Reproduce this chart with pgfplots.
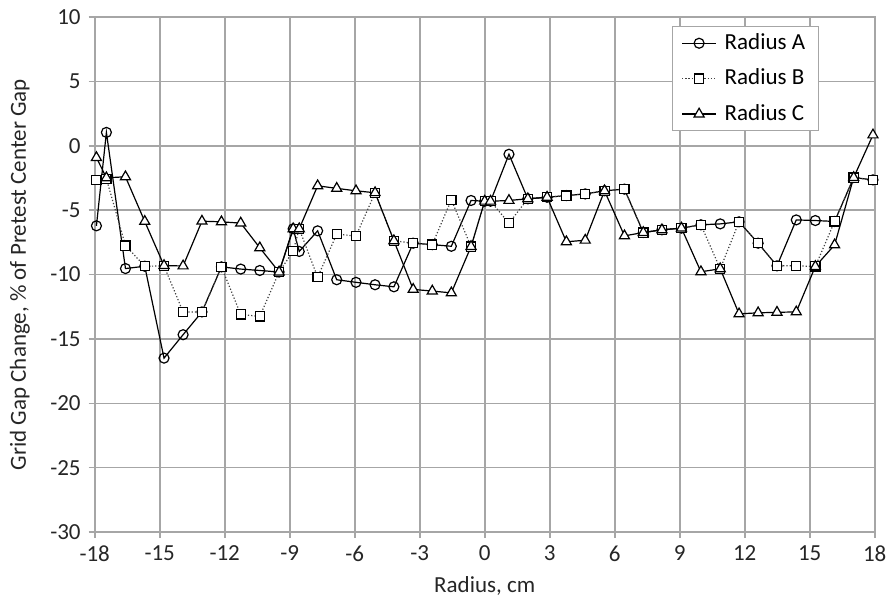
\documentclass[border=0pt]{standalone}
\usepackage{fontspec}
\setmainfont{Carlito}
\usepackage{pgfplots}
\usepackage{pgfplotstable}
\pgfplotsset{compat=1.18}
\pgfplotstableread{
x      a       b       c
-17.92 -6.21   -2.65   -0.91
-17.46 1.05    -2.56   -2.48
-16.58 -9.53   -7.74   -2.40
-15.69 -9.35   -9.35   -5.87
-14.80 -16.49  -9.33   -9.30
-13.92 -14.67  -12.90  -9.33
-13.05 -12.90  -12.90  -5.85
-12.15 -9.40   -9.40   -5.90
-11.26 -9.57   -13.10  -6.00
-10.38 -9.68   -13.25  -7.92
-9.49  -9.80   -9.80   -9.80
-8.84  -6.44   -8.18   -6.44
-8.56  -8.20   -6.44   -6.44
-7.71  -6.60   -10.20  -3.10
-6.83  -10.40  -6.86   -3.30
-5.94  -10.60  -7.00   -3.49
-5.06  -10.79  -3.64   -3.64
-4.19  -10.95  -7.37   -7.37
-3.30  -7.56   -7.56   -11.15
-2.42  -7.67   -7.67   -11.28
-1.54  -7.80   -4.19   -11.42
-0.63  -4.24   -7.82   -7.82
0.00   -4.30   -4.30   -4.30
0.27   -4.30   -4.30   -4.30
1.12   -0.65   -6.00   -4.24
1.99   -4.11   -4.11   -4.11
2.88   -3.99   -3.99   -3.99
3.77   -3.86   -3.86   -7.45
4.64   -3.73   -3.73   -7.33
5.53   -3.49   -3.49   -3.49
6.45   -3.36   -3.36   -6.99
7.32   -6.73   -6.73   -6.73
8.18   -6.52   -6.52   -6.52
9.08   -6.39   -6.39   -6.39
9.98   -6.13   -6.13   -9.78
10.87  -6.06   -9.55   -9.55
11.74  -5.90   -5.90   -13.05
12.62  -7.56   -7.56   -12.97
13.49  -9.32   -9.32   -12.93
14.38  -5.75   -9.32   -12.90
15.26  -5.80   -9.37   -9.37
16.15  -5.87   -5.87   -7.69
17.03  -2.46   -2.46   -2.46
17.92  -2.64   -2.64   0.85
}\datatable
\begin{document}
\fontsize{11.5bp}{13.8bp}\selectfont
\begin{tikzpicture}
\path[use as bounding box] (0,0) rectangle (445.5bp,305bp);
\begin{axis}[
  at={(47.35bp,39bp)}, anchor=south west,
  scale only axis, width=390bp, height=257.4bp,
  xmin=-18, xmax=18, ymin=-30, ymax=10,
  xtick={-18,-15,...,18}, ytick={-30,-25,...,10},
  xtick pos=left, ytick pos=left,
  grid=major, major grid style={color=black!35, line width=0.8bp},
  axis line style={color=black!35, line width=0.8bp},
  tick style={color=black!35, line width=0.8bp},
  tick align=outside, major tick length=3bp,
  /pgf/number format/assume math mode=true,
  tick label style={font=\fontsize{11.5bp}{13.8bp}\selectfont, text=black!85},
  label style={font=\fontsize{11.5bp}{13.8bp}\selectfont, text=black!85},
  xlabel={Radius, cm},
  ylabel={Grid Gap Change, \% of Pretest Center Gap},
  xlabel style={at={(axis description cs:0.5,0)}, anchor=north, yshift=-18bp},
  ylabel style={at={(axis description cs:-0.0958,0.5)}, anchor=center},
  legend style={at={(axis description cs:0.74,0.983)}, anchor=north west,
    draw=black!35, line width=0.6bp, font=\fontsize{11.5bp}{13.8bp}\selectfont,
    inner xsep=4.5bp, inner ysep=1.5bp, row sep=4bp, text=black,
    /tikz/every odd column/.append style={column sep=2bp}},
  legend cell align=left,
  every axis plot/.append style={line width=0.6bp},
]
\addplot[black, mark=o, mark size=2.5bp, mark options={solid, fill=white, line width=0.6bp}] table[x=x, y=a] {\datatable};
\addlegendentry{Radius A}
\addplot[black!75, densely dotted, mark=square*, mark size=2.3bp, mark options={solid, draw=black, fill=white, line width=0.6bp}] table[x=x, y=b] {\datatable};
\addlegendentry{Radius B}
\addplot[black, mark=triangle*, mark size=2.9bp, mark options={solid, draw=black, fill=white, line width=0.6bp}] table[x=x, y=c] {\datatable};
\addlegendentry{Radius C}
\end{axis}
\end{tikzpicture}
\end{document}
